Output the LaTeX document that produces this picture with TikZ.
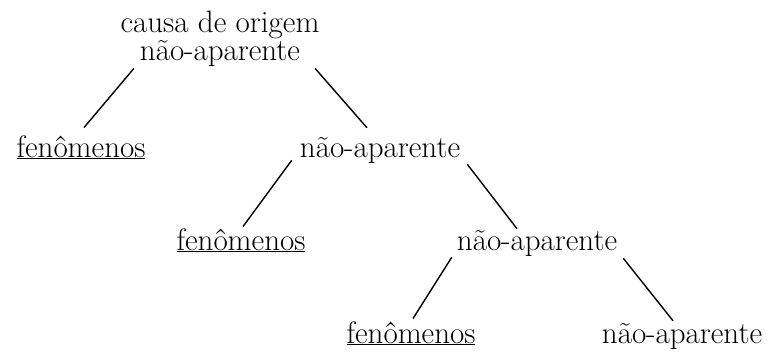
\documentclass[tikz,border=0pt]{standalone}
\usepackage{tikz}
\begin{document}
\begin{tikzpicture}[x=1pt, y=-1pt,
    word/.style={inner sep=0pt, anchor=base, font=\fontsize{31}{28}\selectfont},
    branch/.style={line width=1.4pt}]
    \useasboundingbox (0,0) rectangle (769,354);

    % Root
    \node[word, anchor=north, align=center] (root) at (220,10.5) {causa de origem\\não-aparente};

    % First level
    \node[word] (fen1) at (81,157) {\underline{fenômenos}};
    \node[word] (nao1) at (380,157) {não-aparente};

    % Second level
    \node[word] (fen2) at (241,250) {\underline{fenômenos}};
    \node[word] (nao2) at (537,250) {não-aparente};

    % Third level
    \node[word] (fen3) at (411,343) {\underline{fenômenos}};
    \node[word] (nao3) at (682,343) {não-aparente};

    % Branches
    \draw[branch] ([xshift=13.5pt, yshift=-2pt]root.south west) -- ([xshift=3pt, yshift=7.5pt]fen1.north);
    \draw[branch] ([xshift=-4.5pt, yshift=-2pt]root.south east) -- ([xshift=-13pt, yshift=9pt]nao1.north);
    \draw[branch] ([xshift=-8pt, yshift=3pt]nao1.south west) -- ([xshift=2pt, yshift=1.5pt]fen2.north);
    \draw[branch] ([xshift=7pt, yshift=-1pt]nao1.south east) -- ([xshift=-20pt, yshift=1pt]nao2.north);
    \draw[branch] ([xshift=-5pt, yshift=-1pt]nao2.south west) -- ([xshift=2pt, yshift=2.5pt]fen3.north);
    \draw[branch] ([xshift=6pt, yshift=-2pt]nao2.south east) -- ([xshift=-9pt, yshift=2pt]nao3.north);
\end{tikzpicture}
\end{document}
